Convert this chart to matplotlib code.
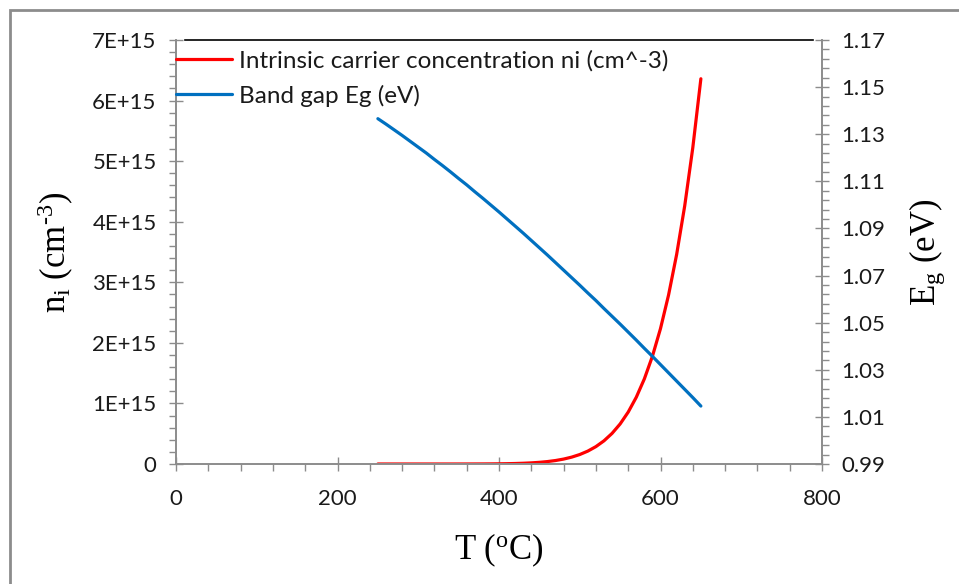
import numpy as np
import matplotlib
matplotlib.use("Agg")
import matplotlib.pyplot as plt
from matplotlib.ticker import MultipleLocator, FixedLocator, FuncFormatter
from matplotlib.patches import Rectangle

# temperature in degC, 10 degC steps
temp_c = [250, 260, 270, 280, 290, 300, 310, 320, 330, 340,
          350, 360, 370, 380, 390, 400, 410, 420, 430, 440,
          450, 460, 470, 480, 490, 500, 510, 520, 530, 540,
          550, 560, 570, 580, 590, 600, 610, 620, 630, 640, 650]

# intrinsic carrier concentration, units of 1e15 cm^-3
ni_e15 = [0.0, 0.0, 0.0, 0.0, 0.0, 0.0, 0.0, 0.0, 0.0, 0.0001,
          0.0002, 0.0004, 0.0007, 0.0012, 0.0020, 0.0032, 0.0052, 0.0081, 0.0124, 0.0186,
          0.0275, 0.0400, 0.0574, 0.0812, 0.1134, 0.1563, 0.2130, 0.2870, 0.3827, 0.5054,
          0.661, 0.857, 1.102, 1.405, 1.779, 2.236, 2.791, 3.460, 4.263, 5.222, 6.360]

# band gap, eV
eg_ev = [1.1366, 1.1343, 1.1319, 1.1295, 1.1270, 1.1245, 1.1220, 1.1193, 1.1167, 1.1140,
         1.1112, 1.1085, 1.1056, 1.1028, 1.0999, 1.0970, 1.0940, 1.0910, 1.0880, 1.0849,
         1.0818, 1.0787, 1.0755, 1.0723, 1.0691, 1.0659, 1.0626, 1.0594, 1.0560, 1.0527,
         1.0494, 1.0460, 1.0426, 1.0391, 1.0357, 1.0322, 1.0287, 1.0252, 1.0217, 1.0182, 1.0146]

# right axis ticks
eg_ticks = [0.99, 1.01, 1.03, 1.05, 1.07, 1.09, 1.11, 1.13, 1.15, 1.17]

label_ni = "Intrinsic carrier concentration ni (cm^-3)"
label_eg = "Band gap Eg (eV)"

plt.rcParams["mathtext.fontset"] = "custom"
plt.rcParams["mathtext.rm"] = "Liberation Serif"
plt.rcParams["mathtext.it"] = "Liberation Serif:italic"

tick_font = "Lato"
axis_grey = "#8c8c8c"
text_col = "#1a1a1a"

fig = plt.figure(figsize=(9.59, 5.84), dpi=100)
ax = fig.add_axes([176 / 959, 1 - 464 / 584, 646 / 959, 424 / 584])
ax2 = ax.twinx()

ni = np.array(ni_e15) * 1e15
l1, = ax.plot(temp_c, ni, color="#ff0000", lw=2.3, solid_capstyle="round")
l2, = ax2.plot(temp_c, eg_ev, color="#0070c0", lw=2.3, solid_capstyle="round")

ax.set_xlim(0, 800)
ax.set_ylim(0, 7e15)
ax2.set_ylim(0.99, 1.17)

ax.xaxis.set_major_locator(MultipleLocator(200))
ax.xaxis.set_minor_locator(MultipleLocator(40))
ax.yaxis.set_major_locator(MultipleLocator(1e15))
ax.yaxis.set_minor_locator(MultipleLocator(2e14))
ax2.yaxis.set_major_locator(FixedLocator(eg_ticks))
ax2.yaxis.set_minor_locator(FixedLocator(np.linspace(0.99, 1.17, 46)))
ax.yaxis.set_major_formatter(FuncFormatter(lambda v, p: "0" if v == 0 else f"{v / 1e15:.0f}E+15"))
ax2.yaxis.set_major_formatter(FuncFormatter(lambda v, p: f"{v:.2f}"))

for a in (ax, ax2):
    a.tick_params(which="major", direction="inout", length=10, width=1, color=axis_grey,
                  labelsize=16, labelcolor=text_col, pad=9)
    a.tick_params(which="minor", direction="out", length=5, width=1, color=axis_grey)
    for s in a.spines.values():
        s.set_color(axis_grey)
        s.set_linewidth(1.2)
    a.spines["top"].set_visible(False)
    for t in a.get_xticklabels() + a.get_yticklabels():
        t.set_fontfamily(tick_font)
ax.tick_params(axis="x", pad=13)

# black line along the top of the plot area
ax.axhline(7e15, xmin=0.014, xmax=0.986, color="black", lw=1.2, clip_on=False)

ax.set_xlabel(r"T ($\mathrm{^{o}}$C)", fontsize=25, fontfamily="Liberation Serif", labelpad=16)
ax.set_ylabel(r"n$_\mathrm{i}$ (cm$^{\text{-}3}$)", fontsize=25, fontfamily="Liberation Serif", labelpad=12)
ax2.set_ylabel(r"E$_\mathrm{g}$ (eV)", fontsize=25, fontfamily="Liberation Serif", labelpad=16)

leg = ax2.legend([l1, l2], [label_ni, label_eg], loc="upper left",
                 bbox_to_anchor=(176 / 959, 1 - 50 / 584), bbox_transform=fig.transFigure,
                 frameon=False, borderpad=0, borderaxespad=0, handlelength=2.3,
                 handletextpad=0.3, labelspacing=0.55,
                 prop={"family": tick_font, "size": 17.5})
for t in leg.get_texts():
    t.set_color(text_col)

# grey frame around the chart
fig.patches.append(Rectangle((10 / 959, -0.1), 1.1, 1 - 10 / 584 + 0.1, transform=fig.transFigure,
                             fill=False, edgecolor="#8c8c8c", lw=2))

fig.savefig("out.png", dpi=100)
